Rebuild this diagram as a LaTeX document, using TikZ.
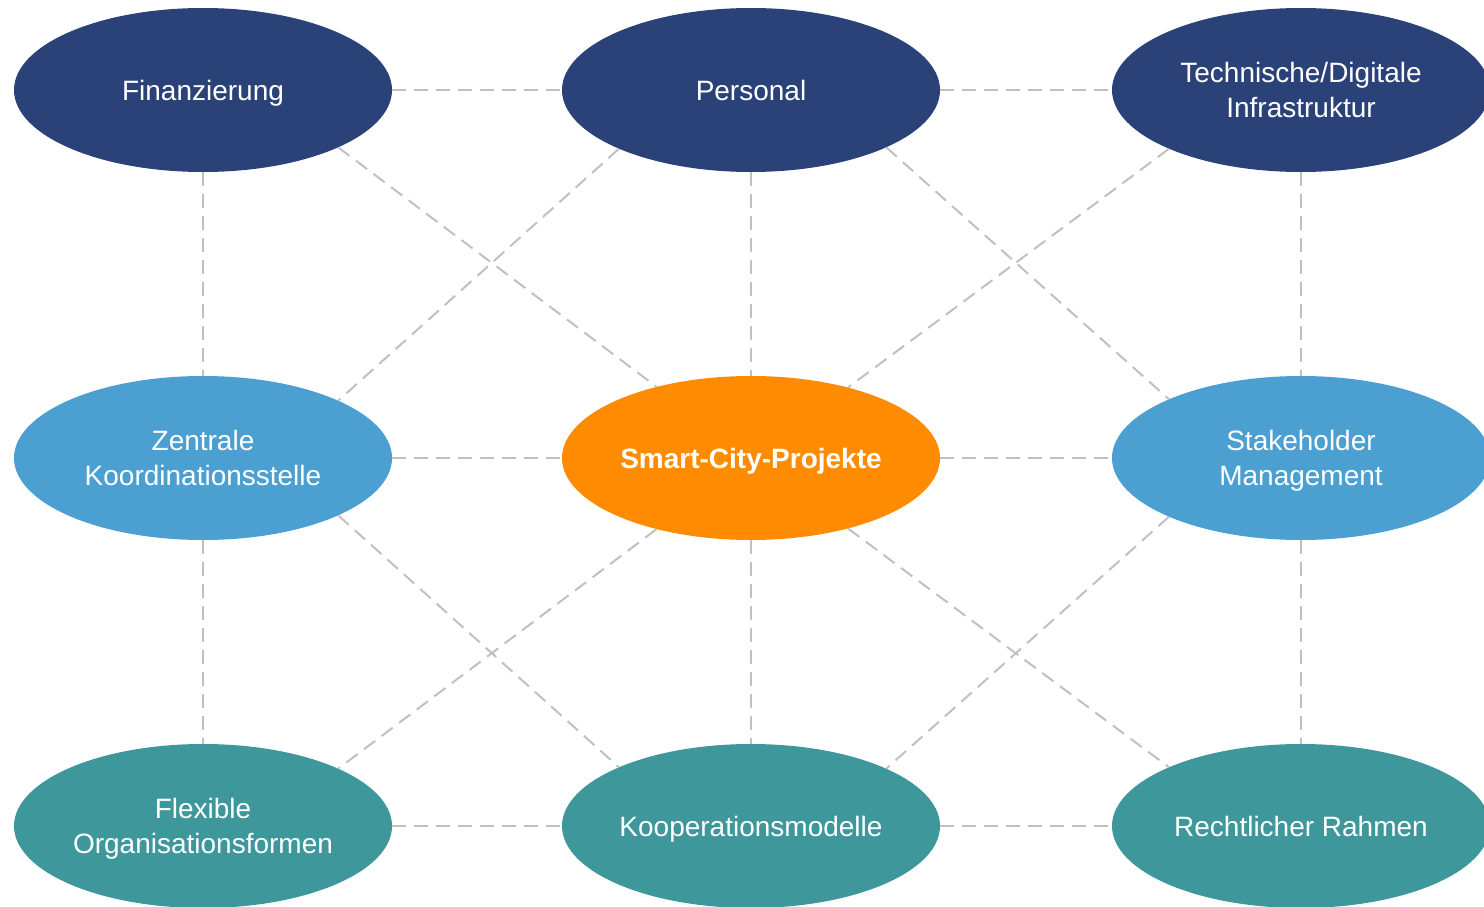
\documentclass[tikz,border=0pt]{standalone}
\usepackage{fontspec}
\setmainfont{Liberation Sans}
\usetikzlibrary{shapes.geometric}
\definecolor{cdark}{HTML}{2B4279}
\definecolor{clight}{HTML}{4B9FD1}
\definecolor{cteal}{HTML}{3D979B}
\definecolor{corange}{HTML}{FF8C00}
\definecolor{cline}{HTML}{C0C0C0}
\newcommand\ls{\rule[-7.25pt]{0pt}{34.5pt}}
\tikzset{
  blob/.style={ellipse, minimum width=378pt, minimum height=164pt, inner sep=0pt,
    text=white, align=center, font=\fontsize{28}{34.5}\selectfont},
  darkblob/.style={blob, fill=cdark},
  lightblob/.style={blob, fill=clight},
  tealblob/.style={blob, fill=cteal},
  centerblob/.style={blob, fill=corange, font=\fontsize{28}{34.5}\selectfont\bfseries},
  link/.style={draw=cline, line width=2pt, dash pattern=on 14pt off 8pt}
}
\begin{document}
\begin{tikzpicture}[x=1pt,y=-1pt]
\useasboundingbox (0,0) rectangle (1484,907);
\clip (0,0) rectangle (1484,907);
\node[darkblob] (fin) at (203,90) {\ls Finanzierung};
\node[darkblob] (pers) at (751,90) {\ls Personal};
\node[darkblob] (tech) at (1301,90) {\ls Technische/Digitale\\\ls Infrastruktur};
\node[lightblob] (zen) at (203,458) {\ls Zentrale\\\ls Koordinationsstelle};
\node[centerblob] (smart) at (751,458) {\ls Smart-City-Projekte};
\node[lightblob] (stake) at (1301,458) {\ls Stakeholder\\\ls Management};
\node[tealblob] (flex) at (203,826) {\ls Flexible\\\ls Organisationsformen};
\node[tealblob] (koop) at (751,826) {\ls Kooperationsmodelle};
\node[tealblob] (recht) at (1301,826) {\ls Rechtlicher Rahmen};
\path[link] (fin.east) -- (pers.west);
\path[link] (pers.east) -- (tech.west);
\path[link] (zen.east) -- (smart.west);
\path[link] (smart.east) -- (stake.west);
\path[link] (flex.east) -- (koop.west);
\path[link] (koop.east) -- (recht.west);
\path[link] (fin.south) -- (zen.north);
\path[link] (zen.south) -- (flex.north);
\path[link] (pers.south) -- (smart.north);
\path[link] (smart.south) -- (koop.north);
\path[link] (tech.south) -- (stake.north);
\path[link] (stake.south) -- (recht.north);
\path[link] (fin.-23.4) -- (smart.143.3);
\path[link] (pers.-156.6) -- (zen.23.4);
\path[link] (pers.-23.4) -- (stake.156.6);
\path[link] (tech.-156.6) -- (smart.36.7);
\path[link] (zen.-23.4) -- (koop.156.6);
\path[link] (smart.-143.3) -- (flex.23.4);
\path[link] (smart.-36.7) -- (recht.156.6);
\path[link] (stake.-156.6) -- (koop.23.4);
\end{tikzpicture}
\end{document}
